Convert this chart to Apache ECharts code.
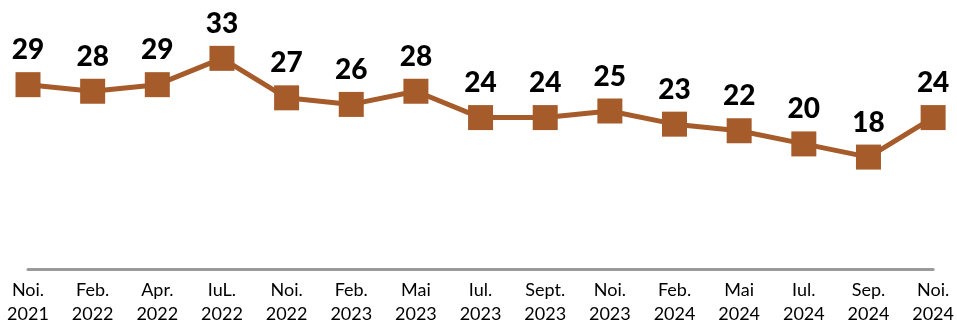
<!DOCTYPE html>
<html>
<head>
<meta charset="utf-8">
<script src="https://cdn.jsdelivr.net/npm/echarts@6/dist/echarts.min.js"></script>
<style>
  html, body { margin: 0; padding: 0; background: #fff; }
  #chart { width: 957px; height: 326px; }
</style>
</head>
<body>
<div id="chart"></div>
<script>
// Survey waves (month + year) and the share recorded at each wave
const months = ['Noi.', 'Feb.', 'Apr.', 'IuL.', 'Noi.', 'Feb.', 'Mai', 'Iul.', 'Sept.', 'Noi.', 'Feb.', 'Mai', 'Iul.', 'Sep.', 'Noi.'];
const years = ['2021', '2022', '2022', '2022', '2022', '2023', '2023', '2023', '2023', '2023', '2024', '2024', '2024', '2024', '2024'];
const values = [29, 28, 29, 33, 27, 26, 28, 24, 24, 25, 23, 22, 20, 18, 24];

const categories = months.map((m, i) => m + '\n' + years[i]);
const brown = '#A65B2A';

const chart = echarts.init(document.getElementById('chart'));
chart.setOption({
  animation: false,
  grid: { left: 28, right: 22, top: 32, bottom: 54 },
  xAxis: {
    type: 'category',
    data: categories,
    boundaryGap: false,
    axisLine: { lineStyle: { color: '#9a9a9a', width: 3 } },
    axisTick: { show: false },
    axisLabel: {
      color: '#000',
      fontFamily: 'Lato',
      fontSize: 18,
      lineHeight: 24,
      margin: 9,
      interval: 0
    }
  },
  yAxis: {
    type: 'value',
    min: 1,
    max: 37,
    show: false,
    splitLine: { show: false }
  },
  series: [{
    type: 'line',
    data: values,
    symbol: 'rect',
    symbolSize: 25,
    itemStyle: { color: brown },
    lineStyle: { color: brown, width: 5 },
    label: {
      show: true,
      position: 'top',
      distance: 8,
      color: '#000',
      fontFamily: 'Lato',
      fontWeight: 900,
      fontSize: 28
    }
  }]
});
</script>
</body>
</html>
